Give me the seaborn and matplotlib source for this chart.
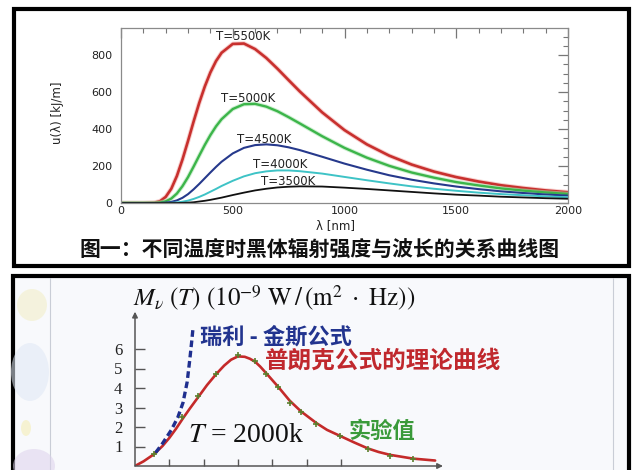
import matplotlib
matplotlib.use("Agg")
import matplotlib.pyplot as plt
from matplotlib.patches import Rectangle, Ellipse
from matplotlib.ticker import MultipleLocator
import seaborn as sns

# ---- top chart: spectral energy density vs wavelength ----
wavelength_nm = [0, 100, 150, 175, 200, 225, 250, 275, 300, 325, 350, 375, 400, 425, 450, 500,
                 550, 600, 650, 700, 750, 800, 900, 1000, 1100, 1200, 1300, 1400, 1500, 1600,
                 1700, 1800, 1900, 2000]
u_5500 = [0, 0, 2, 10, 33, 77, 146, 235, 336, 441, 541, 630, 706, 767, 812, 860,
          862, 832, 784, 726, 664, 603, 490, 394, 317, 256, 208, 170, 140, 116,
          96, 81, 68, 58]
u_5000 = [0, 0, 0, 2, 9, 24, 51, 91, 140, 197, 256, 314, 367, 414, 453, 508,
          534, 536, 521, 496, 464, 430, 361, 298, 245, 201, 165, 137, 113, 95,
          79, 67, 57, 49]
u_4500 = [0, 0, 0, 0, 2, 6, 14, 28, 48, 74, 103, 134, 165, 195, 223, 268,
          298, 313, 317, 312, 301, 286, 250, 213, 180, 150, 126, 106, 89, 75,
          63, 54, 46, 40]
u_4000 = [0, 0, 0, 0, 0, 1, 3, 7, 13, 22, 33, 46, 61, 76, 92, 120,
          144, 161, 171, 176, 176, 172, 159, 141, 123, 106, 90, 77, 66, 56,
          48, 42, 36, 31]
u_3500 = [0, 0, 0, 0, 0, 0, 0, 1, 2, 4, 8, 12, 17, 23, 29, 43,
          56, 68, 77, 84, 88, 90, 89, 83, 76, 68, 60, 52, 45, 40,
          34, 30, 26, 23]
temp_labels = ["T=5500K", "T=5000K", "T=4500K", "T=4000K", "T=3500K"]
x_ticks_top = [0, 500, 1000, 1500, 2000]
y_ticks_top = [0, 200, 400, 600, 800]

# ---- bottom chart: Planck vs Rayleigh-Jeans, T = 2000k ----
planck_x = [0, 0.25, 0.55, 0.8, 1.0, 1.2, 1.4, 1.6, 1.85, 2.1, 2.36, 2.6, 2.8, 3.0, 3.2, 3.35,
            3.5, 3.65, 3.83, 4.17, 4.51, 4.84, 5.29, 5.6, 5.97, 6.4, 6.79, 7.1, 7.44, 8.1, 8.75]
planck_y = [0, 0.24, 0.6, 1.02, 1.44, 1.92, 2.45, 2.95, 3.55, 4.15, 4.7, 5.15, 5.45, 5.62, 5.6, 5.5,
            5.35, 5.1, 4.75, 4.07, 3.35, 2.8, 2.2, 1.85, 1.55, 1.2, 0.9, 0.72, 0.57, 0.38, 0.28]
rj_x = [0.6, 0.8, 1.06, 1.25, 1.4, 1.52, 1.6, 1.66, 1.69]
rj_y = [0.68, 1.15, 1.85, 2.5, 3.25, 4.3, 5.5, 6.5, 7.05]
exp_x = [0.55, 1.37, 1.85, 2.36, 2.99, 3.5, 3.83, 4.17, 4.51, 4.84, 5.29, 5.97, 6.79, 7.44, 8.1]
exp_y = [0.6, 2.5, 3.59, 4.72, 5.69, 5.4, 4.7, 4.07, 3.25, 2.75, 2.15, 1.54, 0.87, 0.53, 0.36]
y_ticks_bottom = [1, 2, 3, 4, 5, 6]
x_ticks_bottom = [1, 2, 3, 4, 5, 6]

sns.set_style("white")
plt.rcParams["font.family"] = ["DejaVu Sans", "Noto Sans CJK SC"]
plt.rcParams["mathtext.fontset"] = "stix"
CJK = ["Noto Sans CJK SC", "DejaVu Sans"]

W, H = 640, 470
def fx(x):
    return x / W
def fy(y):
    return 1 - y / H

fig = plt.figure(figsize=(6.4, 4.7), dpi=100)

# frames of the two screenshots
fig.add_artist(Rectangle((fx(14), fy(265.5)), fx(629) - fx(14), fy(8.5) - fy(265.5),
                         transform=fig.transFigure, fill=False, lw=3, ec="black", zorder=-1))
fig.add_artist(Rectangle((fx(12.5), -0.05), fx(629) - fx(12.5), fy(276) + 0.05,
                         transform=fig.transFigure, fc="#f8f9fc", lw=3, ec="black", zorder=-2))
for xl in (50, 613):
    fig.add_artist(plt.Line2D([fx(xl), fx(xl)], [0, fy(278)], transform=fig.transFigure,
                              color="#c9cdd6", lw=0.8, zorder=-1))
for (cx, cy, w, h, c) in [(32, 305, 30, 32, "#f2eec4"), (30, 372, 38, 58, "#e0e8f5"),
                          (26, 428, 10, 16, "#f5eeb0"), (34, 466, 42, 34, "#ddd2ec")]:
    fig.add_artist(Ellipse((fx(cx), fy(cy)), w / W, h / H, transform=fig.transFigure,
                           fc=c, ec="none", alpha=0.55, zorder=-1))

# ---- top axes ----
ax = fig.add_axes([fx(121), fy(203), fx(568) - fx(121), fy(28) - fy(203)])
ax.set_facecolor("white")
series = [u_5500, u_5000, u_4500, u_4000, u_3500]
colors = ["#c8302e", "#3cb54a", "#26398c", "#3ec3c6", "#111111"]
glows = ["#f2a7a4", "#a8e3ae", None, None, None]
widths = [1.9, 1.7, 1.5, 1.4, 1.3]
for vals, c, g, lw in zip(series, colors, glows, widths):
    if g:
        sns.lineplot(x=wavelength_nm, y=vals, ax=ax, color=g, linewidth=lw + 1.4,
                     estimator=None, sort=False, alpha=0.55)
    sns.lineplot(x=wavelength_nm, y=vals, ax=ax, color=c, linewidth=lw,
                 estimator=None, sort=False)

label_xy = [(548, 899), (571, 563), (639, 345), (714, 207), (748, 117)]
for (lx, ly), txt in zip(label_xy, temp_labels):
    ax.text(lx, ly, txt, ha="center", va="center", fontsize=8.5, color="#222222")

ax.set_xlim(0, 2000)
ax.set_ylim(0, 946)
ax.set_xticks(x_ticks_top)
ax.set_yticks(y_ticks_top)
ax.xaxis.set_minor_locator(MultipleLocator(100))
ax.yaxis.set_minor_locator(MultipleLocator(50))
ax.tick_params(which="both", direction="in", top=True, right=True, colors="#777777",
               labelcolor="#222222", labelsize=8)
ax.tick_params(which="major", length=7, width=0.9)
ax.tick_params(which="minor", length=3.5, width=0.8)
ax.tick_params(axis="x", pad=2)
ax.tick_params(axis="y", pad=6)
for s in ax.spines.values():
    s.set_color("#8a8a8a")
    s.set_linewidth(0.9)
ax.set_xlabel("")
ax.set_ylabel("")
fig.text(fx(57), fy(113), "u(λ) [kJ/m]", rotation=90, ha="center", va="center",
         fontsize=8.5, color="#222222")
fig.text(fx(335), fy(226), "λ [nm]", ha="center", va="center", fontsize=8.5, color="#222222")
fig.text(fx(320), fy(250), "图一：不同温度时黑体辐射强度与波长的关系曲线图", ha="center",
         va="center", fontsize=15, fontweight="bold", family=CJK, color="#111111")

# ---- bottom axes ----
unit_x, unit_y = 34.3, 19.5
bx = fig.add_axes([fx(135), fy(466), fx(455) - fx(135), fy(305) - fy(466)])
bx.set_facecolor("none")
bx.set_xlim(0, 320 / unit_x)
bx.set_ylim(0, 161 / unit_y)

sns.lineplot(x=planck_x, y=planck_y, ax=bx, color="#c42a2a", linewidth=1.9,
             estimator=None, sort=False)
sns.lineplot(x=rj_x, y=rj_y, ax=bx, color="#1f2f8f", linewidth=2.4,
             estimator=None, sort=False, dashes=False, linestyle=(0, (2, 1.1)))
sns.scatterplot(x=exp_x, y=exp_y, ax=bx, marker="+", color="#5b7f2d", s=22, linewidth=1.2,
                zorder=5)

for s in bx.spines.values():
    s.set_visible(False)
bx.annotate("", xy=(0, (466 - 311.7) / unit_y), xytext=(0, 0),
            arrowprops=dict(arrowstyle="-|>", color="#555555", lw=1.1, mutation_scale=8,
                            shrinkA=0, shrinkB=0))
bx.annotate("", xy=((443 - 135) / unit_x, 0), xytext=(0, 0),
            arrowprops=dict(arrowstyle="-|>", color="#555555", lw=1.1, mutation_scale=8,
                            shrinkA=0, shrinkB=0))
bx.set_yticks(y_ticks_bottom)
bx.set_xticks(x_ticks_bottom)
bx.tick_params(axis="y", direction="in", length=7, width=1, colors="#555555", left=True,
               labelcolor="#222222", labelsize=12, pad=9)
bx.tick_params(axis="x", direction="in", length=5, width=1, colors="#555555", bottom=True,
               labelbottom=False)
for lab in bx.get_yticklabels():
    lab.set_family("Liberation Serif")
bx.set_xlabel("")
bx.set_ylabel("")

fig.text(fx(133), fy(298),
         r"$M_{\nu}\ (T)\ (10^{-9}\ \mathrm{W}\,/\,(\mathrm{m}^{2}\ \cdot\ \mathrm{Hz}))$",
         ha="left", va="center", fontsize=18, color="#111111")
bx.text(1.9, 6.63, "瑞利 - 金斯公式", ha="left", va="center", fontsize=16,
        fontweight="bold", family=CJK, color="#22348f")
bx.text(3.79, 5.4, "普朗克公式的理论曲线", ha="left", va="center", fontsize=17,
        fontweight="bold", family=CJK, color="#c0282d")
bx.text(6.21, 1.76, "实验值", ha="left", va="center", fontsize=16,
        fontweight="bold", family=CJK, color="#3a9a3a")
bx.text(1.55, 1.54, r"$T$ = 2000k", ha="left", va="center", fontsize=20,
        family="Liberation Serif", color="#111111")

fig.savefig("out.png", dpi=100)
